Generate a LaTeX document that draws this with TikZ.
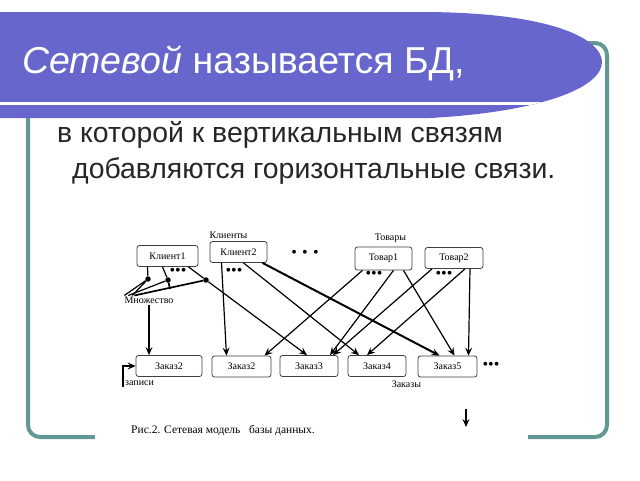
\documentclass[tikz,border=0pt]{standalone}
\usepackage{fontspec}
\setmainfont{Liberation Serif}
\newfontfamily\slidefont{Liberation Sans}
\usetikzlibrary{positioning,arrows.meta}
\definecolor{banner}{RGB}{102,102,204}
\definecolor{frame}{RGB}{98,152,148}

\begin{document}
\begin{tikzpicture}[x=1pt,y=-1pt]
\tikzstyle{rec}=[draw=black!75,rounded corners=2.5pt,line width=.8pt,minimum height=21pt,inner sep=0pt,font=\fontsize{10}{11}\selectfont]
\tikzstyle{lbl}=[inner sep=1pt,font=\fontsize{10}{11}\selectfont]
\tikzstyle{knot}=[circle,fill=black,inner sep=0pt,minimum size=5.5pt]
\tikzstyle{few}=[inner sep=0pt,font=\fontsize{16}{16}\selectfont]
\tikzstyle{link}=[->,>={Stealth[length=8pt,width=7pt,inset=3pt]},line width=1.2pt]
\useasboundingbox (0,0) rectangle (640,480);

\draw[frame,line width=4pt,rounded corners=12pt] (28,43) rectangle (607,437);
\begin{scope}
\clip (0,12) -- (420,12) .. controls (555,12) and (602,40) .. (602,62) .. controls (602,88) and (540,112) .. (430,118) -- (0,118) -- cycle;
\fill[banner] (0,0) rectangle (640,130);
\draw[white,line width=3pt] (0,103) -- (640,103);
\end{scope}
\node[anchor=base west,inner sep=0pt,text=white,font=\slidefont\fontsize{37.5}{40}\selectfont] (title) at (22,73) {\textit{Сетевой} называется БД,};
\node[anchor=base west,inner sep=0pt,text=black!85,font=\slidefont\fontsize{28.4}{32}\selectfont] (line1) at (57,142) {в которой к вертикальным связям};
\node[anchor=base west,inner sep=0pt,text=black!85,font=\slidefont\fontsize{28.4}{32}\selectfont] (line2) at (72,178) {добавляются горизонтальные связи.};

\fill[white] (95,212) rectangle (528,452);
\node[rec,minimum width=61pt] (k1) at (167.5,256) {Клиент1};
\node[rec,minimum width=57pt] (k2) at (238.5,252) {Клиент2};
\node[lbl,above=1pt of k2,xshift=-10pt] (kl) {Клиенты};
\node[few] (kmore) at (305,254) {•\,\,•\,\,•};
\node[rec,minimum width=57pt,minimum height=23pt] (t1) at (383.5,258.5) {Товар1};
\node[rec,minimum width=58pt] (t2) at (454,258) {Товар2};
\node[lbl,above=3pt of t1,xshift=7pt] (tl) {Товары};

\node[few] (k1dots) at (178,272) {•••};
\node[few] (k2dots) at (234,272) {•••};
\node[few] (t1dots) at (374,275) {•••};
\node[few] (t2dots) at (444,275) {•••};

\node[knot] (d1) at (148,279) {};
\node[knot] (d2) at (168,280) {};
\node[knot] (d3) at (206,280) {};
\node[lbl] (mn) at (149,300) {Множество};

\node[rec,minimum width=66pt] (z1) at (169,366) {Заказ2};
\node[rec,minimum width=59pt] (z2) at (241.5,366.5) {Заказ2};
\node[rec,minimum width=58pt] (z3) at (309,366) {Заказ3};
\node[rec,minimum width=58pt] (z4) at (377,366) {Заказ4};
\node[rec,minimum width=59pt] (z5) at (447.5,366.5) {Заказ5};
\node[few] (zmore) at (491,366) {•••};
\node[lbl,below=3pt of z4.south east] (zl) {Заказы};
\node[lbl,below=3pt of z1.south west,xshift=4pt] (zap) {записи};
\node[lbl,font=\fontsize{11.5}{12}\selectfont] (cap) at (223,430) {Рис.2. Сетевая модель \ \ базы данных.};
\coordinate (s1) at (466,409);
\coordinate (s2) at (466,427);

\draw[line width=1.2pt] ([xshift=-20pt]k1.south) -- (d1) -- ([xshift=1pt]mn.north west);
\draw[line width=1.2pt] ([xshift=-5pt]k1.south) -- (d2) -- ([xshift=5pt]mn.north west);
\draw[line width=1.2pt] (d1) -- ([xshift=9pt]mn.north west);
\draw[line width=1.7pt] (d3) -- ([xshift=11pt]mn.north west);
\draw[line width=1.7pt] (d2) -- ++(2,9);
\draw[link] ([xshift=21pt]k1.south) -- (d3) -- ([xshift=-2pt]z3.north);
\draw[link] (mn.south) -- ([xshift=-20pt]z1.north);
\draw[link] ([xshift=-17pt]k2.south) -- ([xshift=-15pt]z2.north);
\draw[link] ([xshift=5pt]k2.south) -- ([xshift=-18pt]z4.north);
\draw[link,line width=2pt] ([xshift=24pt]k2.south) -- ([xshift=-8pt]z5.north);
\draw[link] ([xshift=-21pt]t1.south) -- ([xshift=23pt]z2.north);
\draw[link] ([xshift=10pt]t1.south) -- ([xshift=21pt]z3.north);
\draw[link] ([xshift=20pt]t1.south) -- ([xshift=7pt]z5.north);
\draw[link] ([xshift=-22pt]t2.south) -- ([xshift=24pt]z3.north);
\draw[link] ([xshift=11pt]t2.south) -- ([xshift=-10pt]z4.north);
\draw[link] ([xshift=16pt]t2.south) -- ([xshift=21pt]z5.north);
\draw[link,line width=1.6pt] ([xshift=-1pt]zap.south west) |- (z1.west);
\draw[link,line width=1.6pt] (s1) -- (s2);
\end{tikzpicture}
\end{document}
